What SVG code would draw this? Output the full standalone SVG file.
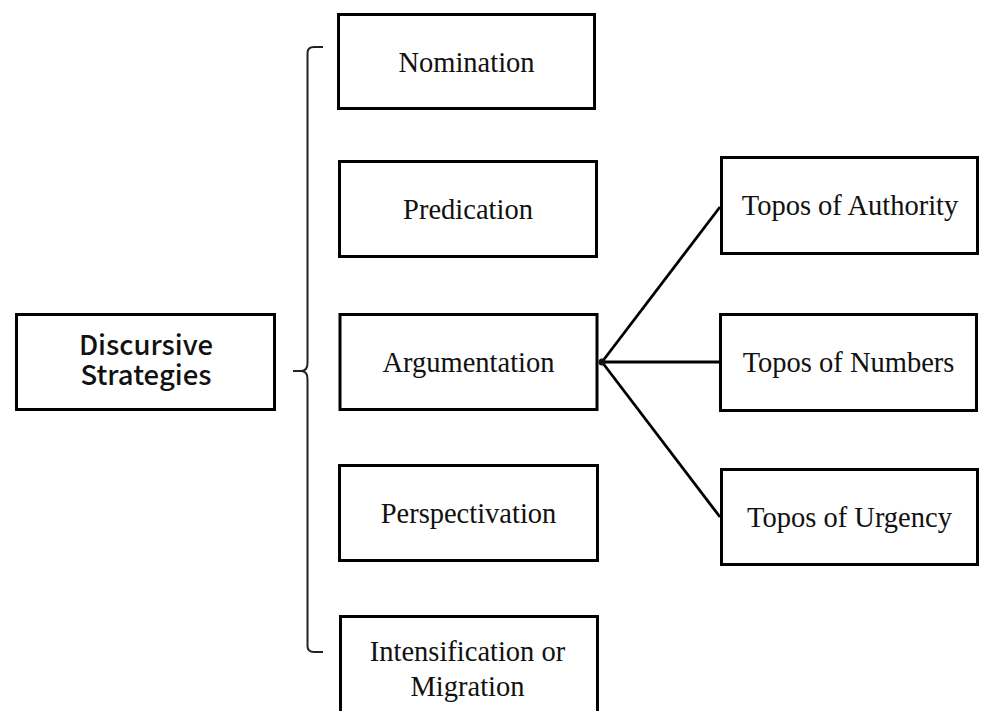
<svg xmlns="http://www.w3.org/2000/svg" width="982" height="711" viewBox="0 0 982 711">
<style>
.box{fill:#fff;stroke:#000;stroke-width:3}
.lbl{font-family:"Liberation Serif","Times New Roman",serif;font-size:28.5px;fill:#111;text-anchor:middle}
.root{font-family:"Noto Sans CJK SC","Noto Sans",sans-serif;font-weight:500;font-size:27.5px;fill:#111;text-anchor:middle}
.conn{fill:none;stroke:#000;stroke-width:2.8}
.brace{fill:none;stroke:#222;stroke-width:2}
</style>
<rect width="982" height="711" fill="#fff"/>
<g id="connectors">
<path class="brace" d="M323,47 L314,47 Q307.5,47 307.5,53 L307.5,363 Q307.5,371 301,371 L293,371 M301,371 Q307.5,371 307.5,379 L307.5,646 Q307.5,652 314,652 L323,652"/>
<line class="conn" x1="602" y1="362" x2="720" y2="207"/>
<line class="conn" x1="602" y1="362" x2="719" y2="362"/>
<line class="conn" x1="602" y1="362" x2="720" y2="517"/>
<circle cx="602" cy="362" r="3.5" fill="#111"/>
</g>
<g id="discursive">
<rect class="box" x="16.5" y="314.5" width="258" height="95"/>
<text class="root"><tspan x="146" y="355">Discursive</tspan><tspan x="146" y="385">Strategies</tspan></text>
</g>
<g id="nomination">
<rect class="box" x="338.5" y="14.5" width="256" height="94"/>
<text class="lbl" x="466.5" y="72">Nomination</text>
</g>
<g id="predication">
<rect class="box" x="339.5" y="161.5" width="257" height="95"/>
<text class="lbl" x="468" y="219">Predication</text>
</g>
<g id="argumentation">
<rect class="box" x="340" y="314.5" width="257" height="95"/>
<text class="lbl" x="468.5" y="372">Argumentation</text>
</g>
<g id="perspectivation">
<rect class="box" x="339.5" y="465.5" width="258" height="95"/>
<text class="lbl" x="468.5" y="523">Perspectivation</text>
</g>
<g id="intensification">
<rect class="box" x="340.5" y="616.5" width="257" height="120"/>
<text class="lbl"><tspan x="467.5" y="661">Intensification or</tspan><tspan x="467.5" y="696">Migration</tspan></text>
</g>
<g id="authority">
<rect class="box" x="721.5" y="157.5" width="256" height="96"/>
<text class="lbl" x="850" y="215">Topos of Authority</text>
</g>
<g id="numbers">
<rect class="box" x="720.5" y="314.5" width="256" height="96"/>
<text class="lbl" x="848.5" y="372">Topos of Numbers</text>
</g>
<g id="urgency">
<rect class="box" x="721.5" y="469.5" width="256" height="95"/>
<text class="lbl" x="849.5" y="527">Topos of Urgency</text>
</g>
</svg>
